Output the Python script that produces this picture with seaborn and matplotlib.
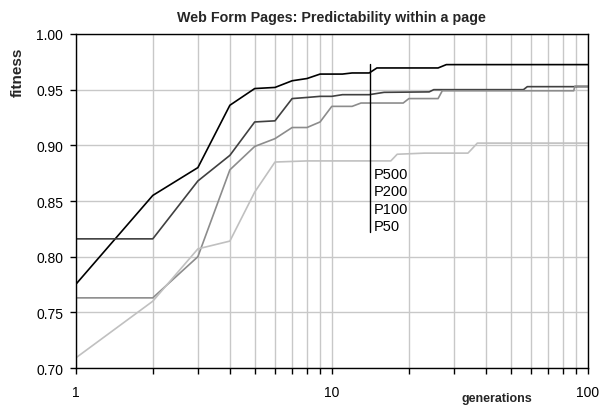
import numpy as np
import matplotlib
matplotlib.use("Agg")
import matplotlib.pyplot as plt
import matplotlib.ticker as mticker
import seaborn as sns
import pandas as pd

# generations where each curve changes, and the fitness there
gen_p500 = [1, 2, 3, 4, 5, 6, 7, 8, 9, 10, 11, 12, 14, 15, 26, 28, 100]
fit_p500 = [0.775, 0.855, 0.880, 0.936, 0.951, 0.952, 0.958, 0.960, 0.964, 0.964, 0.964, 0.965, 0.965, 0.9695, 0.9695, 0.9725, 0.9725]

gen_p200 = [1, 2, 3, 4, 5, 6, 7, 8, 9, 10, 11, 14, 16, 24, 25, 56, 58, 100]
fit_p200 = [0.816, 0.816, 0.868, 0.891, 0.921, 0.922, 0.942, 0.943, 0.944, 0.944, 0.9455, 0.9455, 0.9476, 0.948, 0.950, 0.950, 0.9527, 0.9527]

gen_p100 = [1, 2, 3, 4, 5, 6, 7, 8, 9, 10, 12, 13, 19, 20, 26, 27, 88, 89, 100]
fit_p100 = [0.763, 0.763, 0.800, 0.878, 0.899, 0.906, 0.916, 0.916, 0.921, 0.935, 0.935, 0.938, 0.938, 0.942, 0.942, 0.949, 0.949, 0.9532, 0.9532]

gen_p50 = [1, 2, 3, 4, 5, 6, 8, 17, 18, 23, 34, 35, 37, 100]
fit_p50 = [0.709, 0.760, 0.807, 0.814, 0.858, 0.885, 0.886, 0.886, 0.892, 0.893, 0.893, 0.896, 0.902, 0.902]

series = ["P500", "P200", "P100", "P50"]
colors = ["#000000", "#404040", "#8c8c8c", "#c0c0c0"]

frames = []
for name, g, f in zip(series, [gen_p500, gen_p200, gen_p100, gen_p50],
                      [fit_p500, fit_p200, fit_p100, fit_p50]):
    frames.append(pd.DataFrame({"generations": g, "fitness": f, "run": name}))
df = pd.concat(frames, ignore_index=True)

sns.set_style("white", {"xtick.bottom": True, "ytick.left": True})
plt.rcParams["font.family"] = ["Liberation Sans", "DejaVu Sans"]
plt.rcParams["xtick.major.size"] = 4
plt.rcParams["xtick.minor.size"] = 4
plt.rcParams["ytick.major.size"] = 4
plt.rcParams["xtick.minor.visible"] = True

fig = plt.figure(figsize=(6.03, 4.06), dpi=100)
ax = fig.add_axes([0.1255, 0.0911, 0.8495, 0.8227])

ax.set_xscale("log")
ax.set_xlim(1, 100)
ax.set_ylim(0.70, 1.00)
ax.xaxis.set_major_locator(mticker.LogLocator(base=10, numticks=5))
ax.xaxis.set_minor_locator(mticker.LogLocator(base=10, subs=np.arange(2, 10), numticks=20))
ax.xaxis.set_major_formatter(mticker.FuncFormatter(lambda v, p: f"{v:g}"))
ax.xaxis.set_minor_formatter(mticker.NullFormatter())
ax.yaxis.set_major_locator(mticker.MultipleLocator(0.05))
ax.yaxis.set_minor_locator(mticker.NullLocator())
ax.yaxis.set_major_formatter(mticker.FormatStrFormatter("%.2f"))
ax.grid(True, which="both", axis="x", color="#c8c8c8", lw=1)
ax.grid(True, which="major", axis="y", color="#c8c8c8", lw=1)
ax.set_axisbelow(True)

sns.lineplot(data=df, x="generations", y="fitness", hue="run", hue_order=series,
             palette=colors, legend=False, sort=False, lw=1.2, ax=ax,
             estimator=None)

for s in ax.spines.values():
    s.set_color("black")
    s.set_linewidth(1)

ax.tick_params(axis="both", which="both", direction="out", width=1, length=4,
               color="black", labelsize=10, labelcolor="black")
ax.tick_params(axis="x", which="both", bottom=True, top=False, pad=8)
ax.tick_params(axis="y", which="both", left=True, right=False, pad=5)

ax.set_title("Web Form Pages: Predictability within a page", fontsize=10.3,
             fontweight="bold", pad=9)
ax.set_ylabel("fitness", fontsize=11, fontweight="bold")
ax.yaxis.label.set_va("center")
ax.yaxis.set_label_coords(-0.1126, 0.889)
ax.set_xlabel("generations", fontsize=9, fontweight="bold")
ax.xaxis.label.set_va("top")
ax.xaxis.set_label_coords(0.822, -0.072)

# Excel-style legend: just names with a bar at the left
ax.axvline(14.1, ymin=0.408, ymax=0.910, color="black", lw=1)
for i, name in enumerate(series):
    ax.text(0.5825, 0.580 - i * 0.0515, name, transform=ax.transAxes,
            fontsize=10.5, va="center", ha="left", color="black")

fig.savefig("out.png", dpi=100)
